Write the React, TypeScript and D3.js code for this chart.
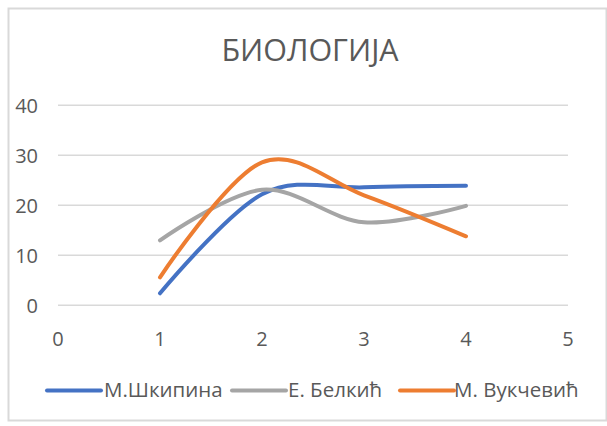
import React from "react";
import * as d3 from "d3";

const xValues = [1, 2, 3, 4];
const seriesNames = ["М.Шкипина", "Е. Белкић", "М. Вукчевић"];
const shkipina = [2.4, 22.2, 23.6, 23.9];
const belkic = [13, 23.1, 16.6, 19.9];
const vukcevic = [5.6, 28.6, 22, 13.8];
const seriesColors = ["#4472C4", "#A5A5A5", "#ED7D31"];
const xTicks = [0, 1, 2, 3, 4, 5];
const yTicks = [0, 10, 20, 30, 40];
const title = "БИОЛОГИЈА";

const W = 607;
const H = 426;
const FONT = "'Open Sans', 'Noto Sans', sans-serif";

export default function App() {
  const x = d3.scaleLinear().domain([0, 5]).range([58, 568]);
  const y = d3.scaleLinear().domain([0, 40]).range([305.3, 105.3]);
  const allSeries = [shkipina, belkic, vukcevic];
  const line = d3
    .line<number>()
    .x((_, i) => x(xValues[i]))
    .y((d) => y(d))
    .curve(d3.curveCardinal.tension(0));

  const legendItems = [
    { lx: 47, tx: 104 },
    { lx: 232, tx: 288 },
    { lx: 400, tx: 454 },
  ];

  return (
    <svg
      width={W}
      height={H}
      style={{ position: "absolute", left: 0, top: 0, background: "#fff" }}
      fontFamily={FONT}
    >
      <rect x={0} y={0} width={W} height={H} fill="#fff" />
      <rect x={8.5} y={8.5} width={W - 9} height={H - 14} fill="#fff" stroke="#d9d9d9" strokeWidth={2} />
      <text x={310} y={60.5} textAnchor="middle" fontSize={30.5} fill="#595959">
        {title}
      </text>
      {yTicks.map((t) => (
        <g key={t}>
          <line x1={58} x2={568} y1={y(t)} y2={y(t)} stroke="#d9d9d9" strokeWidth={1.5} />
          <text x={38} y={y(t) + 7.5} textAnchor="end" fontSize={20} fill="#595959">
            {t}
          </text>
        </g>
      ))}
      {xTicks.map((t) => (
        <text key={t} x={x(t)} y={345.5} textAnchor="middle" fontSize={20} fill="#595959">
          {t}
        </text>
      ))}
      {allSeries.map((s, i) => (
        <path
          key={i}
          d={line(s) || ""}
          fill="none"
          stroke={seriesColors[i]}
          strokeWidth={4}
          strokeLinecap="round"
          strokeLinejoin="round"
        />
      ))}
      {seriesNames.map((n, i) => (
        <g key={n}>
          <line
            x1={legendItems[i].lx}
            x2={legendItems[i].lx + 54}
            y1={390.5}
            y2={390.5}
            stroke={seriesColors[i]}
            strokeWidth={4}
            strokeLinecap="round"
          />
          <text x={legendItems[i].tx} y={397} fontSize={20.5} fill="#595959">
            {n}
          </text>
        </g>
      ))}
    </svg>
  );
}
